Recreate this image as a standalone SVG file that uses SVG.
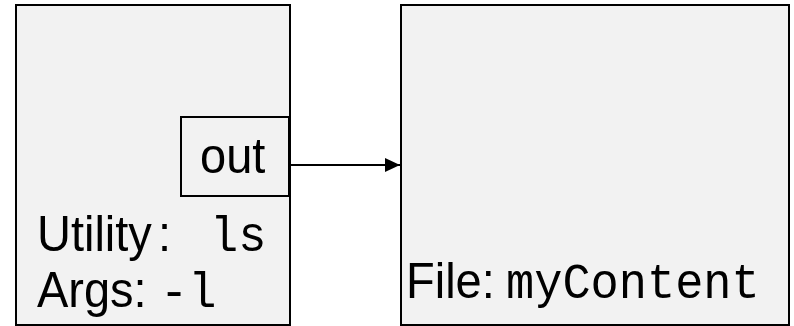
<svg xmlns="http://www.w3.org/2000/svg" width="794" height="326" viewBox="0 0 794 326">
  <style>
    .box { fill: #f2f2f2; stroke: #000; stroke-width: 2; }
    .sans { font-family: "Liberation Sans", Arial, sans-serif; font-size: 47px; fill: #000; }
    .mono { font-family: "Liberation Mono", "Courier New", monospace; font-size: 47px; fill: #000; }
    .wire { stroke: #000; stroke-width: 2; fill: none; }
  </style>
  <defs>
    <marker id="arrow" markerWidth="15" markerHeight="14" refX="15" refY="7" orient="auto" markerUnits="userSpaceOnUse">
      <path d="M0,0 L15,7 L0,14 Z" fill="#000"/>
    </marker>
  </defs>
  <rect width="794" height="326" fill="#fff"/>

  <g id="utility">
    <rect class="box" x="16" y="5" width="274" height="320"/>
    <text class="sans" transform="translate(37,251) scale(1,1.07)">Utility</text>
    <text class="sans" transform="translate(158,251) scale(1,1.07)">:</text>
    <text class="mono" transform="translate(210,251) scale(1,1.07)">ls</text>
    <text class="sans" transform="translate(37,307) scale(1,1.07)">Args:</text>
    <text class="mono" transform="translate(160,307) scale(1,1.07)">-l</text>
  </g>

  <g id="out-port">
    <rect class="box" x="181" y="117" width="108" height="79"/>
    <text class="sans" transform="translate(200,173) scale(1,1.07)">out</text>
  </g>

  <g id="file">
    <rect class="box" x="401" y="5" width="388" height="320"/>
    <text class="sans" transform="translate(406,298) scale(1,1.07)">File:</text>
    <text class="mono" transform="translate(506,298) scale(1,1.07)">myContent</text>
  </g>

  <g id="connectors">
    <line class="wire" x1="290" y1="165" x2="400" y2="165" marker-end="url(#arrow)"/>
  </g>
</svg>
